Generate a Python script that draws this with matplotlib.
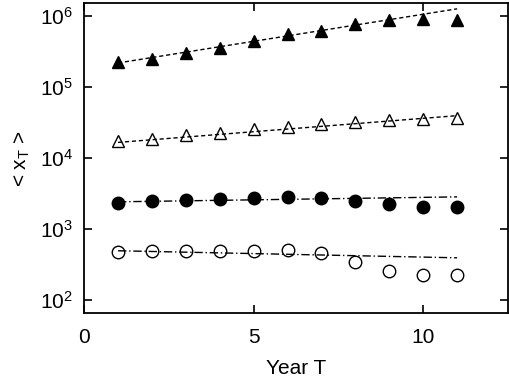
import matplotlib.pyplot as plt

plt.rcParams['font.family'] = ['Liberation Sans', 'DejaVu Sans']
plt.rcParams['mathtext.default'] = 'regular'

years = [1, 2, 3, 4, 5, 6, 7, 8, 9, 10, 11]

filled_tri = [2.25e5, 2.48e5, 3.0e5, 3.54e5, 4.45e5, 5.6e5, 6.2e5, 7.7e5, 8.8e5, 9.1e5, 8.8e5]
open_tri = [1.73e4, 1.87e4, 2.09e4, 2.25e4, 2.54e4, 2.76e4, 2.98e4, 3.22e4, 3.43e4, 3.54e4, 3.62e4]
filled_circ = [2.30e3, 2.48e3, 2.56e3, 2.65e3, 2.71e3, 2.79e3, 2.76e3, 2.48e3, 2.23e3, 2.06e3, 2.06e3]
open_circ = [474, 495, 495, 495, 495, 505, 463, 346, 259, 225, 227]

# fitted lines, endpoint values at year 1 and year 11
fit_x = [1, 11]
fit_filled_tri = [2.18e5, 1.26e6]
fit_open_tri = [1.66e4, 3.95e4]
fit_filled_circ = [2.42e3, 2.84e3]
fit_open_circ = [495, 394]

fig = plt.figure(figsize=(5.1, 3.8), dpi=100)
ax = fig.add_axes([0.165, 0.176, 0.831, 0.816])

ax.plot(fit_x, fit_filled_tri, color='black', lw=1, ls=(0, (3, 2)))
ax.plot(fit_x, fit_open_tri, color='black', lw=1, ls=(0, (3, 2)))
ax.plot(fit_x, fit_filled_circ, color='black', lw=1, ls=(0, (6, 2, 1, 2)))
ax.plot(fit_x, fit_open_circ, color='black', lw=1, ls=(0, (6, 2, 1, 2)))

ax.plot(years, filled_tri, ls='none', marker='^', ms=9, color='black')
ax.plot(years, open_tri, ls='none', marker='^', ms=9, mfc='none', mec='black', mew=1)
ax.plot(years, filled_circ, ls='none', marker='o', ms=9, color='black')
ax.plot(years, open_circ, ls='none', marker='o', ms=9, mfc='none', mec='black', mew=1)

ax.set_yscale('log')
ax.set_xlim(0, 12.5)
ax.set_ylim(65.6, 1.52e6)
ax.set_xticks([0, 5, 10])
ax.set_yticks([1e2, 1e3, 1e4, 1e5, 1e6])
ax.minorticks_off()
ax.tick_params(direction='in', length=6, width=1.2, top=True, right=True, labelsize=15)
ax.tick_params(axis='x', pad=11)
ax.tick_params(axis='y', pad=8)
for s in ax.spines.values():
    s.set_linewidth(1.3)

ax.set_xlabel('Year T', fontsize=15, labelpad=8)
ax.set_ylabel('< x$_T$ >', fontsize=15, labelpad=6)

plt.savefig('out.png')
